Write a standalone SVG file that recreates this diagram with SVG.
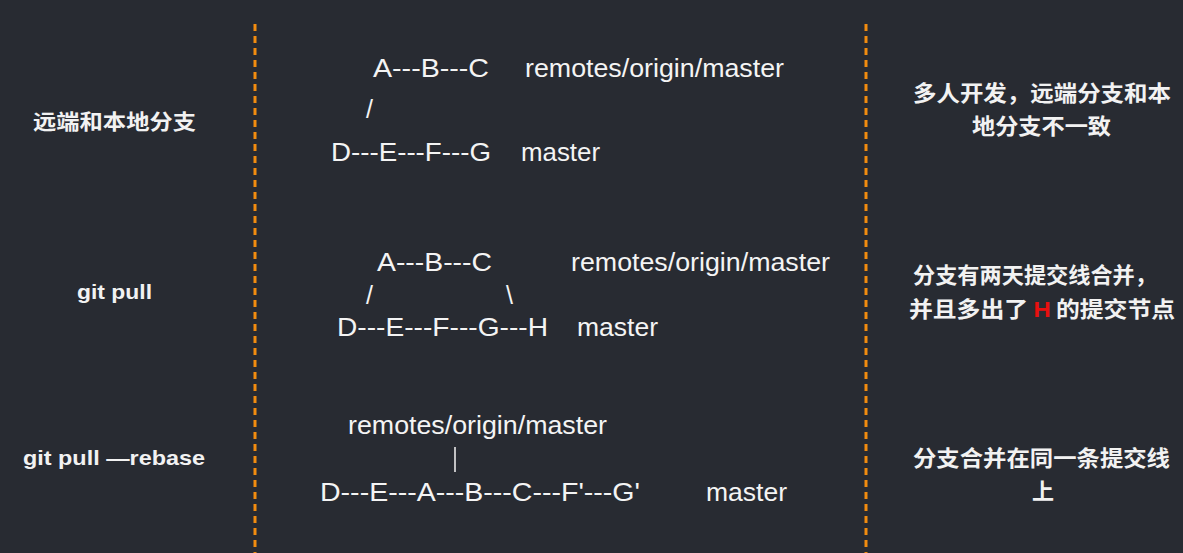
<svg xmlns="http://www.w3.org/2000/svg" width="1183" height="553" viewBox="0 0 1183 553">
<style>
.bg{fill:#282b32}
.div{stroke:#f28c0f;stroke-width:3;stroke-dasharray:7 5;fill:none}
.lbl{font-family:"Liberation Sans","Noto Sans CJK SC",sans-serif;font-weight:bold;font-size:21px;fill:#f2f2f2}
.g{font-family:"Liberation Sans",sans-serif;font-size:25px;fill:#f4f4f4}
.note{font-family:"Noto Sans CJK SC",sans-serif;font-weight:bold;font-size:22px;fill:#f2f2f2}
.red{fill:#e8100f;font-family:"Liberation Sans",sans-serif;font-weight:bold}
</style>
<rect class="bg" x="0" y="0" width="1183" height="553"/>
<g id="dividers">
<line class="div" x1="255" y1="24" x2="255" y2="553"/>
<line class="div" x1="866" y1="24" x2="866" y2="553"/>
</g>
<g id="row1-label"><text class="lbl" x="33" y="129" textLength="163" lengthAdjust="spacingAndGlyphs">远端和本地分支</text></g>
<g id="row2-label"><text class="lbl" x="77" y="299" textLength="75" lengthAdjust="spacingAndGlyphs">git pull</text></g>
<g id="row3-label"><text class="lbl" x="23" y="465" textLength="182" lengthAdjust="spacingAndGlyphs">git pull —rebase</text></g>
<g id="row1-graph">
<text class="g" x="373" y="77" textLength="116" lengthAdjust="spacingAndGlyphs">A---B---C</text>
<text class="g" x="525" y="77" textLength="259" lengthAdjust="spacingAndGlyphs">remotes/origin/master</text>
<text class="g" x="366" y="118">/</text>
<text class="g" x="331" y="161" textLength="160" lengthAdjust="spacingAndGlyphs">D---E---F---G</text>
<text class="g" x="521" y="161" textLength="79" lengthAdjust="spacingAndGlyphs">master</text>
</g>
<g id="row2-graph">
<text class="g" x="377" y="271" textLength="115" lengthAdjust="spacingAndGlyphs">A---B---C</text>
<text class="g" x="571" y="271" textLength="259" lengthAdjust="spacingAndGlyphs">remotes/origin/master</text>
<text class="g" x="366" y="304">/</text>
<text class="g" x="506" y="304">\</text>
<text class="g" x="337" y="336" textLength="211" lengthAdjust="spacingAndGlyphs">D---E---F---G---H</text>
<text class="g" x="577" y="336" textLength="81" lengthAdjust="spacingAndGlyphs">master</text>
</g>
<g id="row3-graph">
<text class="g" x="348" y="434" textLength="259" lengthAdjust="spacingAndGlyphs">remotes/origin/master</text>
<line x1="455" y1="447" x2="455" y2="472" stroke="#f4f4f4" stroke-width="1.5"/>
<text class="g" x="320" y="501" textLength="320" lengthAdjust="spacingAndGlyphs">D---E---A---B---C---F'---G'</text>
<text class="g" x="706" y="501" textLength="81" lengthAdjust="spacingAndGlyphs">master</text>
</g>
<g id="row1-note">
<text class="note" x="913" y="101" textLength="258" lengthAdjust="spacingAndGlyphs">多人开发，远端分支和本</text>
<text class="note" x="972" y="134" textLength="139" lengthAdjust="spacingAndGlyphs">地分支不一致</text>
</g>
<g id="row2-note">
<text class="note" x="913" y="283" textLength="244" lengthAdjust="spacingAndGlyphs">分支有两天提交线合并，</text>
<text class="note" x="909" y="317" textLength="266" lengthAdjust="spacingAndGlyphs">并且多出了 <tspan class="red">H</tspan> 的提交节点</text>
</g>
<g id="row3-note">
<text class="note" x="913" y="466" textLength="257" lengthAdjust="spacingAndGlyphs">分支合并在同一条提交线</text>
<text class="note" x="1032" y="499">上</text>
</g>
</svg>
